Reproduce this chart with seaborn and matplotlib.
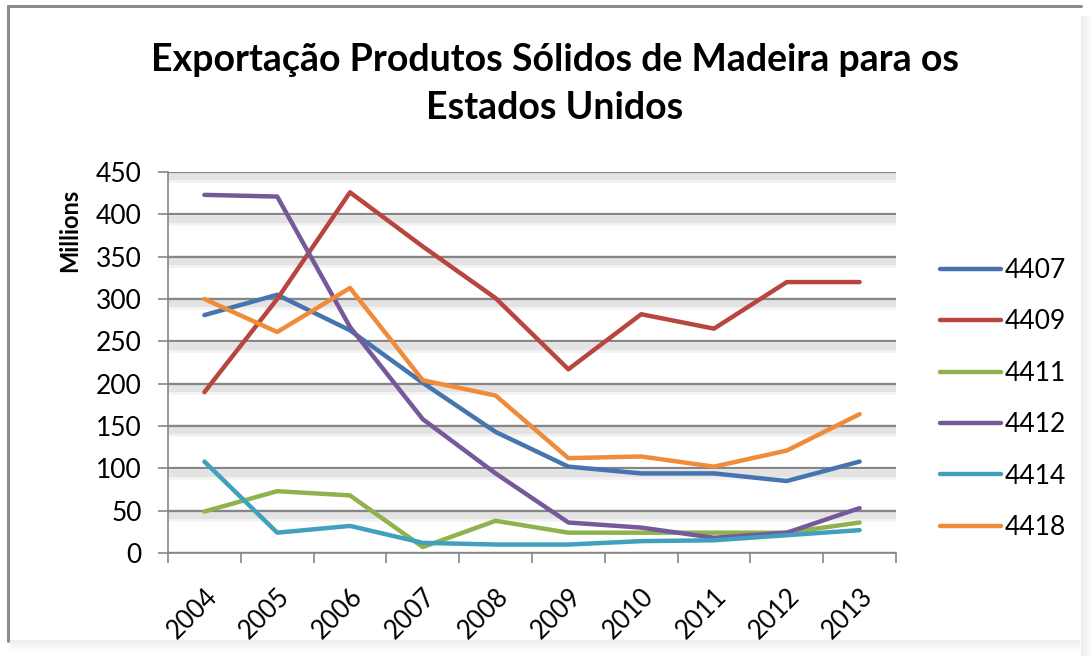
import pandas as pd
import seaborn as sns
import matplotlib.pyplot as plt
import matplotlib.patheffects as pe
from matplotlib.patches import Rectangle

# Data (millions)
years = ['2004', '2005', '2006', '2007', '2008', '2009', '2010', '2011', '2012', '2013']
s4407 = [281, 305, 263, 201, 143, 102, 94, 94, 85, 108]
s4409 = [190, 300, 426, 362, 301, 217, 282, 265, 320, 320]
s4411 = [49, 73, 68, 7, 38, 24, 24, 24, 24, 36]
s4412 = [423, 421, 267, 158, 94, 36, 30, 18, 24, 53]
s4414 = [108, 24, 32, 12, 10, 10, 14, 15, 21, 27]
s4418 = [300, 261, 313, 204, 186, 112, 114, 102, 121, 164]

series_names = ['4407', '4409', '4411', '4412', '4414', '4418']
series_values = [s4407, s4409, s4411, s4412, s4414, s4418]
colors = ['#4674AE', '#B9453F', '#8FB24E', '#76599A', '#41A0BC', '#EF8B39']

rows = []
for name, vals in zip(series_names, series_values):
    for yr, v in zip(years, vals):
        rows.append({'Ano': yr, 'Valor': v, 'Produto': name})
df = pd.DataFrame(rows)

sns.set_style('white')
plt.rcParams['font.family'] = ['Lato', 'DejaVu Sans']
plt.rcParams['text.color'] = 'black'

fig = plt.figure(figsize=(10.92, 6.56), dpi=100)
ax = fig.add_axes([168 / 1092, 1 - 553 / 656, 728 / 1092, 381 / 656])

# frame around the chart with soft shadow on right/bottom
W, H = 1092, 656
def px(x, y):
    return x / W, 1 - y / H
for i in range(12):
    a = 0.10 * (1 - i / 12)
    fig.patches.append(Rectangle(px(1081 + i, 656), 1 / W, (650 - 10) / H,
                                 transform=fig.transFigure, color='#555555',
                                 alpha=a, lw=0, zorder=0))
    fig.patches.append(Rectangle(px(10, 641 + i), (1080 - 10) / W, 1 / H,
                                 transform=fig.transFigure, color='#555555',
                                 alpha=a, lw=0, zorder=0))
fig.lines.append(plt.Line2D([8 / W, 8 / W], [1 - 6 / H, 1 - 641 / H],
                            transform=fig.transFigure, color='#8c8c8c', lw=2.2))
fig.lines.append(plt.Line2D([8 / W, 1081 / W], [1 - 6 / H, 1 - 6 / H],
                            transform=fig.transFigure, color='#8c8c8c', lw=2.2))

sns.lineplot(data=df, x='Ano', y='Valor', hue='Produto', hue_order=series_names,
             palette=colors, linewidth=3.2, ax=ax, sort=False,
             solid_capstyle='round', solid_joinstyle='round')

ax.set_xlim(-0.5, len(years) - 0.5)
ax.set_ylim(0, 450)
ax.set_yticks(range(0, 451, 50))

# gridlines with a soft shadow below
ax.yaxis.grid(True, color='#868686', lw=1.6)
ax.set_axisbelow(True)
for gl in ax.get_ygridlines():
    gl.set_path_effects([
        pe.SimpleLineShadow(offset=(0, -3), shadow_color='#000000', alpha=0.05, linewidth=9),
        pe.SimpleLineShadow(offset=(0, -3), shadow_color='#000000', alpha=0.06, linewidth=5),
        pe.Normal()])

for side in ['top', 'right']:
    ax.spines[side].set_visible(False)
for side in ['left', 'bottom']:
    ax.spines[side].set_color('#868686')
    ax.spines[side].set_linewidth(1.2)

ax.tick_params(axis='y', which='major', length=7, width=1.2, color='#868686',
               pad=12, labelsize=19, labelcolor='black', left=True)
ax.set_xticks(range(len(years)))
ax.set_xticks([i - 0.5 for i in range(len(years) + 1)], minor=True)
ax.tick_params(axis='x', which='major', length=0, pad=22, labelsize=18.5,
               labelcolor='black')
ax.tick_params(axis='x', which='minor', length=7, width=1.2, color='#868686',
               bottom=True)
for lab in ax.get_xticklabels():
    lab.set_rotation(45)
    lab.set_ha('right')
    lab.set_va('top')
    lab.set_rotation_mode('anchor')

ax.set_xlabel('')
ax.set_ylabel('')
fig.text(70 / W, 1 - 230 / H, 'Millions', rotation=90, ha='center', va='center',
         fontsize=17, fontweight='bold')

fig.text(555 / W, 1 - 71 / H, 'Exportação Produtos Sólidos de Madeira para os',
         ha='center', va='baseline', fontsize=27, fontweight='bold')
fig.text(555 / W, 1 - 119 / H, 'Estados Unidos',
         ha='center', va='baseline', fontsize=27, fontweight='bold')

ax.legend_.remove()
handles, labels = ax.get_legend_handles_labels()
leg = fig.legend(handles, labels, loc='center left', bbox_to_anchor=(940 / W, 1 - 399 / H),
                 frameon=False, fontsize=19, handlelength=2.3, handletextpad=0.15,
                 labelspacing=1.0, borderpad=0, borderaxespad=0)
for t in leg.get_texts():
    t.set_color('black')

fig.savefig('out.png', dpi=100)
